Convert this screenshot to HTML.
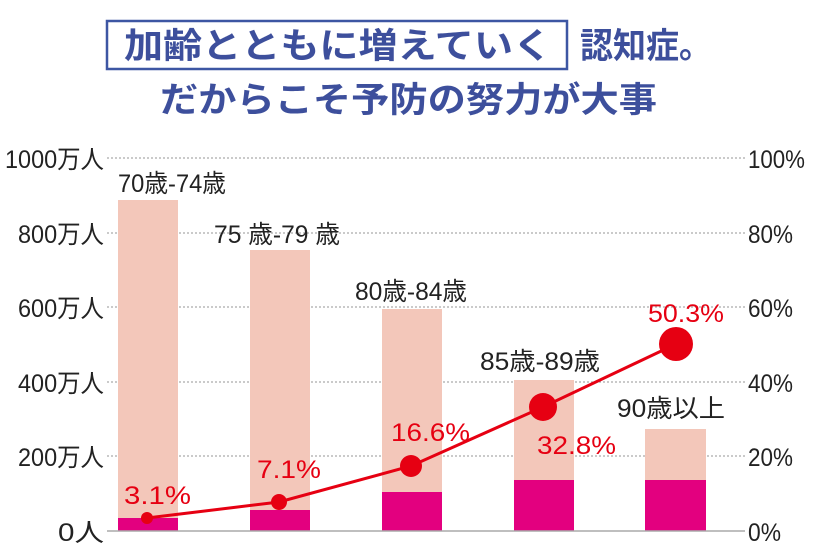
<!DOCTYPE html>
<html><head><meta charset="utf-8"><style>
body{margin:0;width:820px;height:555px;background:#fff;overflow:hidden}
svg text{font-family:"Liberation Sans","Noto Sans CJK JP",sans-serif}
</style></head><body>
<svg width="820" height="555" viewBox="0 0 820 555">
<rect x="107" y="21" width="460" height="48" fill="none" stroke="#3d56a3" stroke-width="2.5"/>
<g fill="#3d4f9c" font-weight="bold" font-size="35">
<text x="124" y="58" textLength="428" lengthAdjust="spacingAndGlyphs">加齢とともに増えていく</text>
<text x="580" y="58" textLength="132" lengthAdjust="spacingAndGlyphs">認知症。</text>
<text x="160" y="112" textLength="497" lengthAdjust="spacingAndGlyphs">だからこそ予防の努力が大事</text>
</g>
<g stroke="#aaa" stroke-width="1.2" stroke-dasharray="2,2">
<line x1="107" y1="158" x2="745" y2="158"/><line x1="107" y1="233" x2="745" y2="233"/>
<line x1="107" y1="307" x2="745" y2="307"/><line x1="107" y1="382" x2="745" y2="382"/>
<line x1="107" y1="456" x2="745" y2="456"/>
</g>
<g fill="#f3c7ba">
<rect x="118" y="200" width="60" height="331"/><rect x="250" y="250" width="60" height="281"/>
<rect x="382" y="309" width="60" height="222"/><rect x="514" y="380" width="60" height="151"/>
<rect x="645" y="429" width="61" height="102"/>
</g>
<g fill="#e3007f">
<rect x="118" y="518" width="60" height="13"/><rect x="250" y="510" width="60" height="21"/>
<rect x="382" y="492" width="60" height="39"/><rect x="514" y="480" width="60" height="51"/>
<rect x="645" y="480" width="61" height="51"/>
</g>
<line x1="107" y1="531" x2="745" y2="531" stroke="#aaa" stroke-width="1.5"/>
<polyline points="147,518 279,502 411,466 543,407 676,344" fill="none" stroke="#e60012" stroke-width="3"/>
<g fill="#e60012">
<circle cx="147" cy="518" r="6"/><circle cx="279" cy="502" r="8"/><circle cx="411" cy="466" r="11"/>
<circle cx="543" cy="407" r="14"/><circle cx="676" cy="344" r="17"/>
</g>
<g font-size="25" fill="#222" lengthAdjust="spacingAndGlyphs">
<text x="5" y="168" textLength="99" lengthAdjust="spacingAndGlyphs">1000万人</text>
<text x="18" y="243" textLength="86" lengthAdjust="spacingAndGlyphs">800万人</text>
<text x="18" y="317" textLength="86" lengthAdjust="spacingAndGlyphs">600万人</text>
<text x="18" y="392" textLength="86" lengthAdjust="spacingAndGlyphs">400万人</text>
<text x="18" y="466" textLength="86" lengthAdjust="spacingAndGlyphs">200万人</text>
<text x="58" y="541" textLength="46" lengthAdjust="spacingAndGlyphs">0人</text>
<text x="748" y="168" textLength="57" lengthAdjust="spacingAndGlyphs">100%</text>
<text x="748" y="243" textLength="45" lengthAdjust="spacingAndGlyphs">80%</text>
<text x="748" y="317" textLength="45" lengthAdjust="spacingAndGlyphs">60%</text>
<text x="748" y="392" textLength="45" lengthAdjust="spacingAndGlyphs">40%</text>
<text x="748" y="466" textLength="45" lengthAdjust="spacingAndGlyphs">20%</text>
<text x="748" y="541" textLength="33" lengthAdjust="spacingAndGlyphs">0%</text>
<text x="118" y="192" textLength="108" lengthAdjust="spacingAndGlyphs">70歳-74歳</text>
<text x="214" y="243" textLength="126" lengthAdjust="spacingAndGlyphs">75 歳-79 歳</text>
<text x="355" y="300" textLength="112" lengthAdjust="spacingAndGlyphs">80歳-84歳</text>
<text x="480" y="370" textLength="120" lengthAdjust="spacingAndGlyphs">85歳-89歳</text>
<text x="617" y="417" textLength="108" lengthAdjust="spacingAndGlyphs">90歳以上</text>
</g>
<g font-size="25" fill="#e60012">
<text x="124" y="504" textLength="67" lengthAdjust="spacingAndGlyphs">3.1%</text>
<text x="257" y="478" textLength="64" lengthAdjust="spacingAndGlyphs">7.1%</text>
<text x="391" y="441" textLength="79" lengthAdjust="spacingAndGlyphs">16.6%</text>
<text x="537" y="454" textLength="79" lengthAdjust="spacingAndGlyphs">32.8%</text>
<text x="648" y="322" textLength="76" lengthAdjust="spacingAndGlyphs">50.3%</text>
</g>
</svg>
</body></html>
